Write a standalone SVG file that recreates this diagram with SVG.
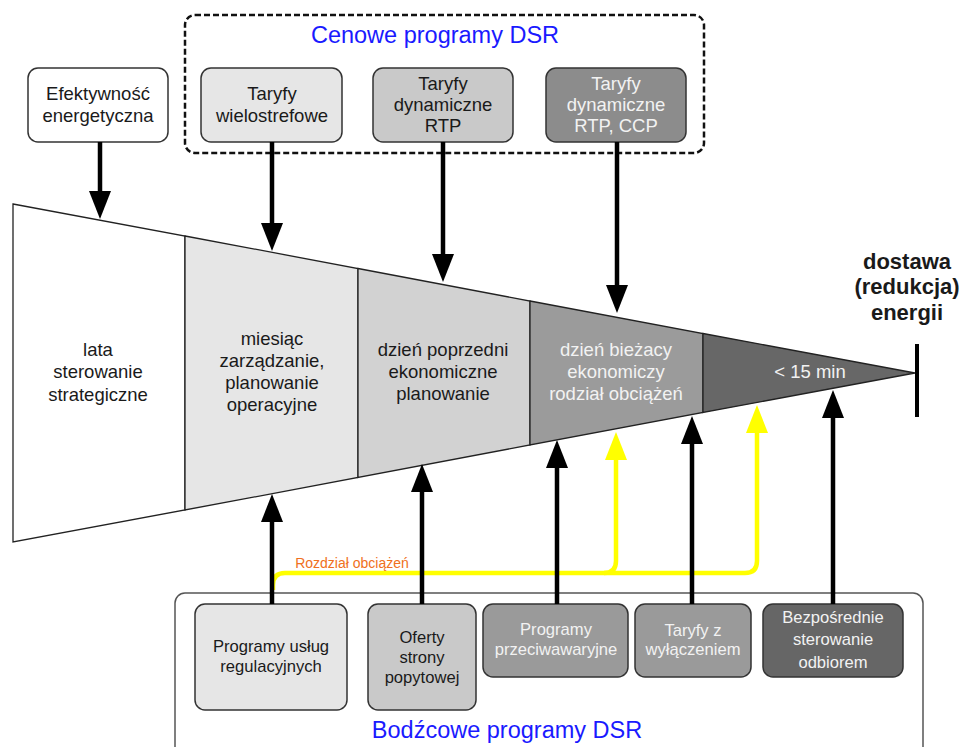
<svg xmlns="http://www.w3.org/2000/svg" width="967" height="747" viewBox="0 0 967 747">
<style>
text{font-family:"Liberation Sans",Arial,sans-serif;text-anchor:middle;fill:#1a1a1a}
.bt{font-size:18.5px}
.ft{font-size:18.5px}
.sb{font-size:16.6px}
.lt{fill:#f2f2f2}
.ttl{font-size:23.5px;fill:#1a1aff}
.box{stroke:#333;stroke-width:1.5}
.sec{stroke:#222;stroke-width:1.3}
.ar{stroke:#000;stroke-width:4.5;fill:none}
.ya{stroke:#ffff00;stroke-width:4.5;fill:none}
</style>
<defs>
<marker id="ah" markerUnits="userSpaceOnUse" markerWidth="30" markerHeight="24" refX="16" refY="11" orient="auto"><path d="M0,0 L28,11 L0,22 z" fill="#000"/></marker>
<marker id="ay" markerUnits="userSpaceOnUse" markerWidth="30" markerHeight="24" refX="16" refY="11" orient="auto"><path d="M0,0 L28,11 L0,22 z" fill="#ffff00"/></marker>
</defs>
<rect width="967" height="747" fill="#fff"/>

<g id="funnel">
<polygon class="sec" points="13,204 185,236 185,510 13,542" fill="#fff"/>
<polygon class="sec" points="185,236 358,268.5 358,477.5 185,510" fill="#e6e6e6"/>
<polygon class="sec" points="358,268.5 530,301 530,445 358,477.5" fill="#d2d2d2"/>
<polygon class="sec" points="530,301 703,333.5 703,412.5 530,445" fill="#9b9b9b"/>
<polygon class="sec" points="703,333.5 915,373 703,412.5" fill="#676767"/>
<line x1="917" y1="344" x2="917" y2="417" stroke="#000" stroke-width="4"/>
</g>
<g id="sec1"><text class="ft" x="98" y="356">lata</text><text class="ft" x="98" y="378">sterowanie</text><text class="ft" x="98" y="401">strategiczne</text></g>
<g id="sec2"><text class="ft" x="272" y="345">miesiąc</text><text class="ft" x="272" y="367">zarządzanie,</text><text class="ft" x="272" y="389">planowanie</text><text class="ft" x="272" y="411">operacyjne</text></g>
<g id="sec3"><text class="ft" x="443" y="356">dzień poprzedni</text><text class="ft" x="443" y="378">ekonomiczne</text><text class="ft" x="443" y="400">planowanie</text></g>
<g id="sec4"><text class="ft lt" x="616" y="356">dzień bieżacy</text><text class="ft lt" x="616" y="378">ekonomiczy</text><text class="ft lt" x="616" y="400">rodział obciążeń</text></g>
<g id="sec5"><text class="ft lt" x="810" y="378">&lt; 15 min</text></g>
<g id="dostawa"><text x="907" y="269" style="font-size:22px;font-weight:bold">dostawa</text><text x="907" y="294" style="font-size:22px;font-weight:bold">(redukcja)</text><text x="907" y="320" style="font-size:22px;font-weight:bold">energii</text></g>

<g id="cenowe">
<rect x="185" y="15" width="519" height="138" rx="10" fill="none" stroke="#111" stroke-width="2.5" stroke-dasharray="6,3"/>
<text class="ttl" x="435" y="43">Cenowe programy DSR</text>
</g>
<g id="efekt"><rect class="box" x="28" y="68" width="140" height="74" rx="10" fill="#fff"/><text class="bt" x="98" y="100">Efektywność</text><text class="bt" x="98" y="122">energetyczna</text></g>
<g id="wielo"><rect class="box" x="201" y="68" width="141" height="74" rx="10" fill="#e6e6e6"/><text class="bt" x="272" y="100">Taryfy</text><text class="bt" x="272" y="122">wielostrefowe</text></g>
<g id="rtp"><rect class="box" x="373" y="68" width="140" height="74" rx="10" fill="#c9c9c9"/><text class="bt" x="443" y="90">Taryfy</text><text class="bt" x="443" y="111">dynamiczne</text><text class="bt" x="443" y="132">RTP</text></g>
<g id="ccp"><rect class="box" x="546" y="68" width="140" height="74" rx="10" fill="#8c8c8c"/><text class="bt lt" x="616" y="90">Taryfy</text><text class="bt lt" x="616" y="111">dynamiczne</text><text class="bt lt" x="616" y="132">RTP, CCP</text></g>

<g id="bodzcowe">
<rect x="175" y="593" width="748" height="180" rx="10" fill="#fff" stroke="#555" stroke-width="1.5"/>
<text class="ttl" x="507" y="738">Bodźcowe programy DSR</text>
</g>
<g id="reg"><rect class="box" x="195" y="604" width="152" height="106" rx="10" fill="#e6e6e6"/><text class="sb" x="271" y="652">Programy usług</text><text class="sb" x="271" y="672">regulacyjnych</text></g>
<g id="oferty"><rect class="box" x="368" y="604" width="108" height="106" rx="10" fill="#c9c9c9"/><text class="sb" x="422" y="643">Oferty</text><text class="sb" x="422" y="663">strony</text><text class="sb" x="422" y="683">popytowej</text></g>
<g id="awar"><rect class="box" x="483" y="604" width="145" height="73" rx="10" fill="#9a9a9a"/><text class="sb lt" x="556" y="635">Programy</text><text class="sb lt" x="556" y="655">przeciwawaryjne</text></g>
<g id="wyl"><rect class="box" x="635" y="604" width="116" height="73" rx="10" fill="#9a9a9a"/><text class="sb lt" x="693" y="636">Taryfy z</text><text class="sb lt" x="693" y="655">wyłączeniem</text></g>
<g id="bezp"><rect class="box" x="763" y="604" width="140" height="73" rx="10" fill="#666"/><text class="sb lt" x="833" y="623">Bezpośrednie</text><text class="sb lt" x="833" y="645">sterowanie</text><text class="sb lt" x="833" y="668">odbiorem</text></g>

<g id="connectors">
<path class="ya" d="M273,590 L273,585 Q273,573 285,573 L745,573 Q757,573 757,561 L757,417" marker-end="url(#ay)"/>
<path class="ya" d="M604,573 Q616,573 616,561 L616,444" marker-end="url(#ay)"/>
<text x="352" y="568" style="font-size:14px;fill:#f07020">Rozdział obciążeń</text>
<path class="ar" d="M100,142 L100,207" marker-end="url(#ah)"/>
<path class="ar" d="M272,142 L272,239" marker-end="url(#ah)"/>
<path class="ar" d="M443,142 L443,270" marker-end="url(#ah)"/>
<path class="ar" d="M617,142 L617,301" marker-end="url(#ah)"/>
<path class="ar" d="M272,604 L272,506" marker-end="url(#ah)"/>
<path class="ar" d="M422,604 L422,476" marker-end="url(#ah)"/>
<path class="ar" d="M557,604 L557,452" marker-end="url(#ah)"/>
<path class="ar" d="M692,604 L692,428" marker-end="url(#ah)"/>
<path class="ar" d="M833,604 L833,402" marker-end="url(#ah)"/>
</g>
</svg>
